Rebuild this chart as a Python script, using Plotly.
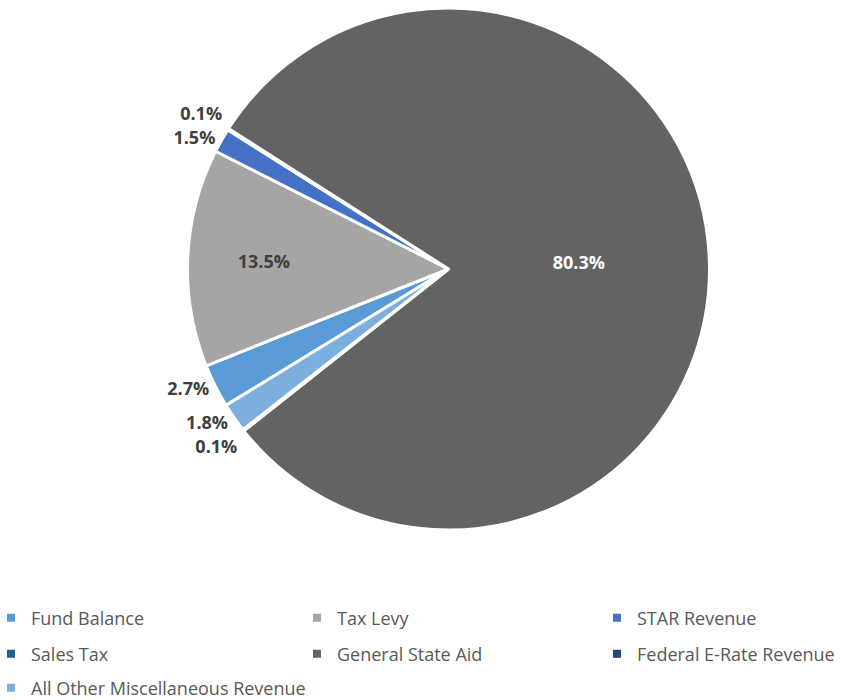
import plotly.graph_objects as go

labels = ["Fund Balance", "Tax Levy", "STAR Revenue", "Sales Tax",
          "General State Aid", "Federal E-Rate Revenue", "All Other Miscellaneous Revenue"]
values = [2.7, 13.5, 1.5, 0.1, 80.3, 0.1, 1.8]
colors = ["#5B9BD5", "#A5A5A5", "#4472C4", "#255E91", "#636363", "#264478", "#7CAFDD"]
positions = ["outside", "inside", "outside", "outside", "inside", "outside", "outside"]
label_colors = ["#404040", "#404040", "#404040", "#404040", "#FFFFFF", "#404040", "#404040"]

W, H = 847, 700
cx, cy, r = 448.5, 269, 261

fig = go.Figure()
fig.add_trace(go.Pie(
    labels=labels, values=values, sort=False, direction="clockwise",
    rotation=238.5,
    marker=dict(colors=colors, line=dict(color="white", width=3)),
    textposition=positions,
    customdata=label_colors,
    texttemplate="<span style='color:%{customdata}'>%{percent:.1%}</span>",
    textfont=dict(family="Open Sans", size=18, color=label_colors, weight="bold"),
    outsidetextfont=dict(family="Open Sans", size=18, color="white", weight="bold"),
    insidetextorientation="horizontal",
    showlegend=False, hoverinfo="label+percent",
    domain=dict(x=[(cx - r) / W, (cx + r) / W], y=[(H - cy - r) / H, (H - cy + r) / H]),
))

# legend grid: 3 columns, 3 rows (reading order)
legend_x = [-9, 297, 597]
legend_y = [618, 654, 688]
layout_legends = {}
for i, lab in enumerate(labels):
    lname = "legend" if i == 0 else f"legend{i + 1}"
    fig.add_trace(go.Scatter(
        x=[None], y=[None], mode="markers", name=lab,
        marker=dict(symbol="square", size=8, color=colors[i]),
        legend=lname, showlegend=True,
    ))
    layout_legends[lname] = dict(
        orientation="h", xanchor="left", yanchor="middle",
        x=legend_x[i % 3] / W, y=1 - legend_y[i // 3] / H,
        bgcolor="rgba(0,0,0,0)",
        font=dict(family="Open Sans", size=18, color="#595959"),
        itemclick=False, itemdoubleclick=False,
    )

fig.update_layout(
    width=W, height=H, margin=dict(l=0, r=0, t=0, b=0, autoexpand=False),
    paper_bgcolor="white", plot_bgcolor="white",
    xaxis=dict(visible=False), yaxis=dict(visible=False),
    **layout_legends,
)
fig.write_html("out.html")
